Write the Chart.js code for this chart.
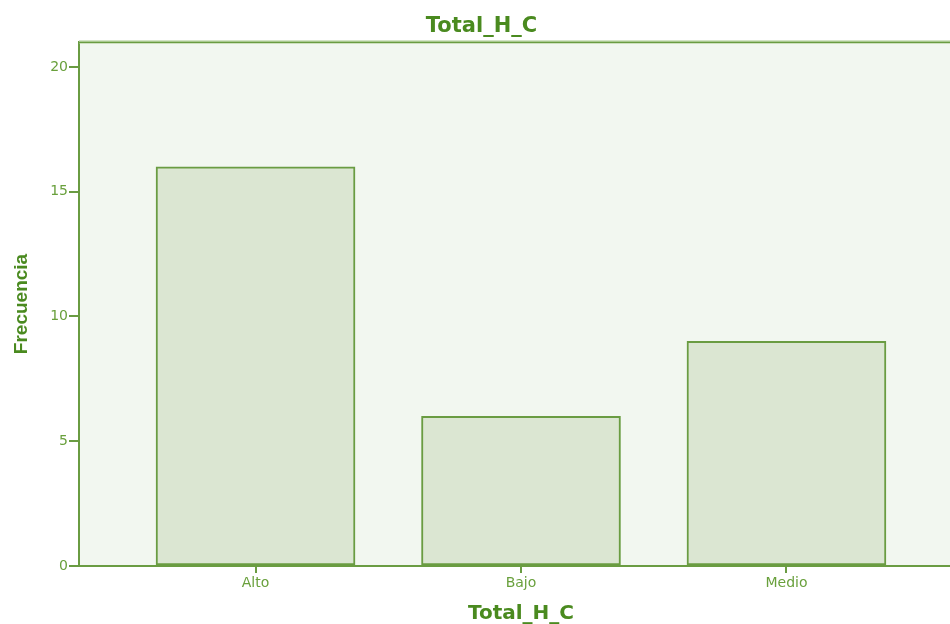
<!DOCTYPE html>
<html>
<head>
<meta charset="utf-8">
<script src="https://cdn.jsdelivr.net/npm/chart.js@4.4.1/dist/chart.umd.min.js"></script>
<style>
  html, body { margin: 0; padding: 0; background: #ffffff; overflow: hidden; }
  #wrap { position: relative; width: 964px; height: 624px; }
</style>
</head>
<body>
<div id="wrap"><canvas id="c"></canvas></div>
<script>
const categories = ['Alto', 'Bajo', 'Medio'];
const frecuencia = [16, 6, 9];
const yTicks = [0, 5, 10, 15, 20];
const chartTitle = 'Total_H_C';
const xTitle = 'Total_H_C';
const yTitle = 'Frecuencia';

const AXIS = '#6a9c42';
const TEXT = '#69a03c';
const TITLE = '#4a8a1f';

const plotBg = {
  id: 'plotBg',
  beforeDraw(chart) {
    const a = chart.chartArea, ctx = chart.ctx;
    ctx.save();
    ctx.fillStyle = '#f2f7f0';
    ctx.fillRect(a.left, a.top, a.right - a.left, a.bottom - a.top);
    ctx.restore();
  },
  afterDraw(chart) {
    const a = chart.chartArea, ctx = chart.ctx;
    ctx.save();
    ctx.strokeStyle = '#a9c98f';
    ctx.lineWidth = 3;
    ctx.beginPath();
    ctx.moveTo(a.left, a.top);
    ctx.lineTo(a.right + 2, a.top);
    ctx.stroke();
    ctx.strokeStyle = AXIS;
    ctx.lineWidth = 1;
    ctx.beginPath();
    ctx.moveTo(a.left, a.top + 0.5);
    ctx.lineTo(a.right + 2, a.top + 0.5);
    ctx.stroke();
    ctx.restore();
  }
};

new Chart(document.getElementById('c'), {
  type: 'bar',
  data: {
    datasets: [{
      data: frecuencia.map((v, i) => ({ x: i + 1, y: v })),
      backgroundColor: '#dbe6d2',
      borderColor: AXIS,
      borderWidth: 2,
      borderSkipped: false,
      barThickness: 199
    }]
  },
  options: {
    responsive: true,
    maintainAspectRatio: false,
    animation: false,
    layout: { padding: { left: 0, right: 1, top: 0, bottom: 0 } },
    plugins: {
      legend: { display: false },
      tooltip: { enabled: false },
      title: {
        display: true,
        text: chartTitle,
        color: TITLE,
        font: { family: 'DejaVu Sans', size: 21, weight: 'bold', lineHeight: 1.2 },
        padding: { top: 14, bottom: 2.8 }
      }
    },
    scales: {
      x: {
        type: 'linear',
        min: 0.335,
        max: 3.665,
        offset: false,
        afterBuildTicks(scale) {
          scale.ticks = categories.map((c, i) => ({ value: i + 1 }));
        },
        afterFit(scale) { scale.height = 58; },
        ticks: {
          color: TEXT,
          font: { family: 'DejaVu Sans', size: 14 },
          padding: 2,
          autoSkip: false,
          maxRotation: 0,
          callback: (v) => categories[v - 1]
        },
        grid: { offset: false, drawOnChartArea: false, drawTicks: true, tickLength: 7, color: AXIS, lineWidth: 2 },
        border: { display: true, color: AXIS, width: 2 },
        title: {
          display: true,
          text: xTitle,
          color: TITLE,
          font: { family: 'DejaVu Sans', size: 20, weight: 'bold', lineHeight: 1.2 },
          padding: { top: 4, bottom: -2 }
        }
      },
      y: {
        min: 0,
        max: 21,
        afterBuildTicks(scale) {
          scale.ticks = yTicks.map(v => ({ value: v }));
        },
        afterFit(scale) { scale.width = 79; },
        ticks: {
          color: TEXT,
          font: { family: 'DejaVu Sans', size: 14 },
          padding: 1
        },
        grid: { drawOnChartArea: false, drawTicks: true, tickLength: 10, color: AXIS, lineWidth: 2 },
        border: { display: true, color: AXIS, width: 2 },
        title: {
          display: true,
          text: yTitle,
          color: TITLE,
          font: { family: 'Liberation Sans', size: 19, weight: 'bold', lineHeight: 1.2 },
          padding: { top: 10, bottom: 0 }
        }
      }
    }
  },
  plugins: [plotBg]
});
</script>
</body>
</html>
